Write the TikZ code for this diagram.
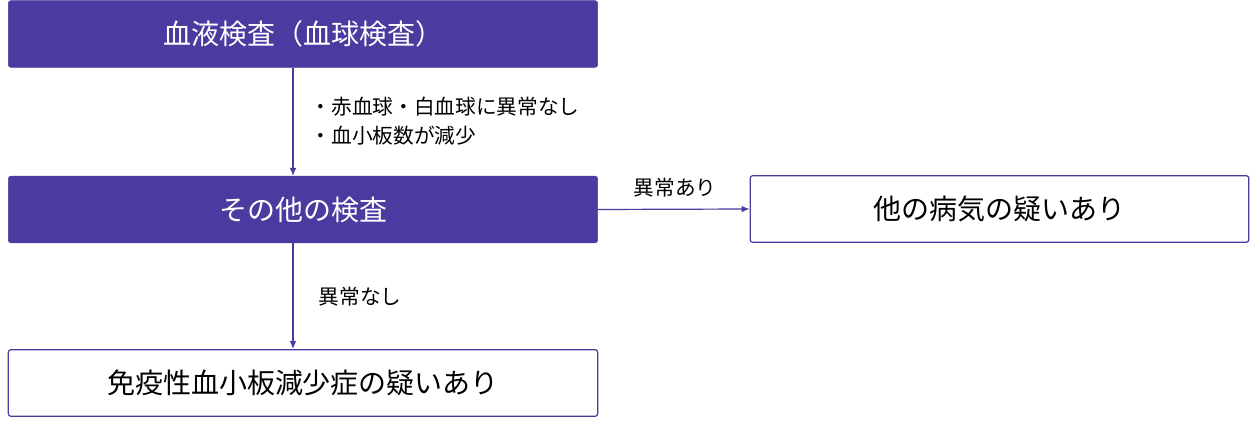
\documentclass[tikz,border=0pt]{standalone}
\usepackage{fontspec}
\newfontfamily\jp{Noto Sans CJK JP}
\usetikzlibrary{positioning,arrows.meta}
\definecolor{boxpurple}{HTML}{4B3A9F}
\tikzset{
  filled/.style={draw=boxpurple,fill=boxpurple,text=white,rounded corners=2pt,minimum width=442pt,minimum height=50pt,font=\jp\fontsize{21}{25}\selectfont},
  outlined/.style={draw=boxpurple,line width=0.9pt,fill=white,text=black,rounded corners=2pt,minimum height=50pt,font=\jp\fontsize{21}{25}\selectfont},
  conn/.style={draw=boxpurple,line width=0.9pt,-{Latex[length=6pt,width=5pt]}},
  lbl/.style={font=\jp\fontsize{15.5}{22}\selectfont,align=left}
}
\begin{document}
\begin{tikzpicture}[x=0.75pt,y=-0.75pt]
\useasboundingbox (0,0) rectangle (1257,427);
\node[filled] (blood) at (303,34) {血液検査（血球検査）};
\node[filled] (other) at (303,209.5) {その他の検査};
\node[outlined,minimum width=374pt] (sick) at (999.5,209) {他の病気の疑いあり};
\node[outlined,minimum width=442pt] (itp) at (303,383) {免疫性血小板減少症の疑いあり};
% arrows
\draw[conn] (blood.south -| 293,0) -- (other.north -| 293,0);
\draw[conn] (other.east) -- (sick.west);
\draw[conn] (other.south -| 293,0) -- (itp.north -| 293,0);
% labels
\node[lbl,anchor=west] (l1) at (306,121) {・赤血球・白血球に異常なし\\・血小板数が減少};
\node[lbl] (l2) at (675,188) {異常あり};
\node[lbl,anchor=west] (l3) at (314,297) {異常なし};
\end{tikzpicture}
\end{document}
